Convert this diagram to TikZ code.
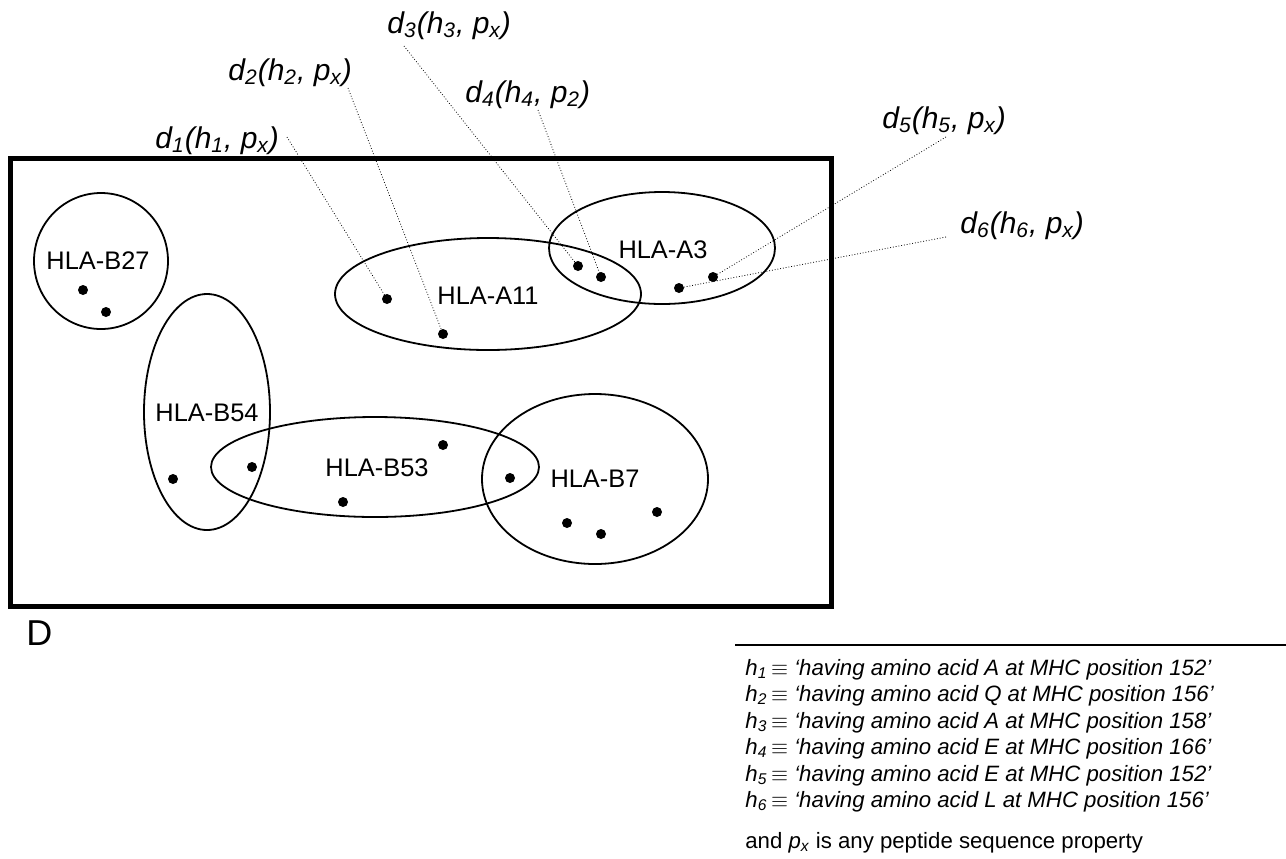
\documentclass[tikz,border=0pt]{standalone}
\usepackage{fontspec}
\setmainfont{Liberation Sans}
\usetikzlibrary{positioning}

\begin{document}
\begin{tikzpicture}[x=0.5pt, y=-0.5pt,
    dot/.style={circle, fill, inner sep=0pt, minimum size=5pt},
    hla/.style={font=\fontsize{12.7}{15}\selectfont},
    lbl/.style={font=\fontsize{15}{18}\selectfont\itshape, anchor=base west, inner sep=0pt},
    lead/.style={densely dotted, line width=0.4pt},
    hlaset/.style={line width=0.9pt},
    legend/.style={font=\fontsize{11.1}{13}\selectfont, anchor=base west, inner sep=0pt}]
  \useasboundingbox (0,0) rectangle (1286,858);

  % frame
  \draw[line width=2.5pt] (10,158) rectangle (831,606);
  \node[anchor=base west, inner sep=0pt, font=\fontsize{18}{21}\selectfont] (D) at (26,645) {D};

  % HLA sets
  \draw[hlaset] (101,261) ellipse [x radius=67, y radius=68];
  \draw[hlaset] (207,412) ellipse [x radius=63, y radius=118];
  \draw[hlaset] (375,467) ellipse [x radius=164, y radius=50];
  \draw[hlaset] (595,479) ellipse [x radius=113, y radius=85];
  \draw[hlaset] (488,294) ellipse [x radius=153, y radius=56];
  \draw[hlaset] (662,248) ellipse [x radius=113, y radius=56];

  \node[hla] (B27) at (98,261) {HLA-B27};
  \node[hla] (B54) at (207,413) {HLA-B54};
  \node[hla] (B53) at (377,468) {HLA-B53};
  \node[hla] (B7) at (595,479) {HLA-B7};
  \node[hla] (A11) at (488,296) {HLA-A11};
  \node[hla] (A3) at (663,250) {HLA-A3};

  % members
  \node[dot] (b27a) at (83,290) {};
  \node[dot] (b27b) at (106,312) {};
  \node[dot] (b54a) at (173,479) {};
  \node[dot] (b54b) at (252,467) {};
  \node[dot] (b53a) at (343,502) {};
  \node[dot] (b53b) at (443,445) {};
  \node[dot] (b53c) at (510,478) {};
  \node[dot] (b7a) at (567,523) {};
  \node[dot] (b7b) at (601,534) {};
  \node[dot] (b7c) at (657,512) {};
  \node[dot] (a11a) at (387,299) {};
  \node[dot] (a11b) at (443,334) {};
  \node[dot] (a3a) at (578,266) {};
  \node[dot] (a3b) at (601,277) {};
  \node[dot] (a3c) at (679,288) {};
  \node[dot] (a3d) at (713,277) {};

  % determinants
  \node[lbl] (d1) at (155,148) {d\textsubscript{1}(h\textsubscript{1}, p\textsubscript{x})};
  \node[lbl] (d2) at (228,80) {d\textsubscript{2}(h\textsubscript{2}, p\textsubscript{x})};
  \node[lbl] (d3) at (387,33) {d\textsubscript{3}(h\textsubscript{3}, p\textsubscript{x})};
  \node[lbl] (d4) at (465,102) {d\textsubscript{4}(h\textsubscript{4}, p\textsubscript{2})};
  \node[lbl] (d5) at (882,128) {d\textsubscript{5}(h\textsubscript{5}, p\textsubscript{x})};
  \node[lbl] (d6) at (960,233) {d\textsubscript{6}(h\textsubscript{6}, p\textsubscript{x})};

  \coordinate (e1) at (287,137);
  \coordinate (e2) at (348,88);
  \coordinate (e3) at (404,46);
  \coordinate (e4) at (538,110);
  \coordinate (e5) at (946,137);
  \coordinate (e6) at (946,237);

  \draw[lead] (e1) -- (a11a.center);
  \draw[lead] (e2) -- (a11b.center);
  \draw[lead] (e3) -- (a3a.center);
  \draw[lead] (e4) -- (a3b.center);
  \draw[lead] (e5) -- (a3d.center);
  \draw[lead] (e6) -- (a3c.center);

  % legend
  \draw[line width=1pt] (735,645) -- (1286,645);
  \foreach \i/\aa/\pos in {1/A/152, 2/Q/156, 3/A/158, 4/E/166, 5/E/152, 6/L/156}
    \node[legend] (h\i) at (745, {675+(\i-1)*26.5})
      {\textit{h\textsubscript{\i}}\,$\equiv$\ \textit{`having amino acid \aa{} at MHC position \pos'}};
  \node[legend] (px) at (745,848) {and \textit{p\textsubscript{x}} is any peptide sequence property};
\end{tikzpicture}
\end{document}
